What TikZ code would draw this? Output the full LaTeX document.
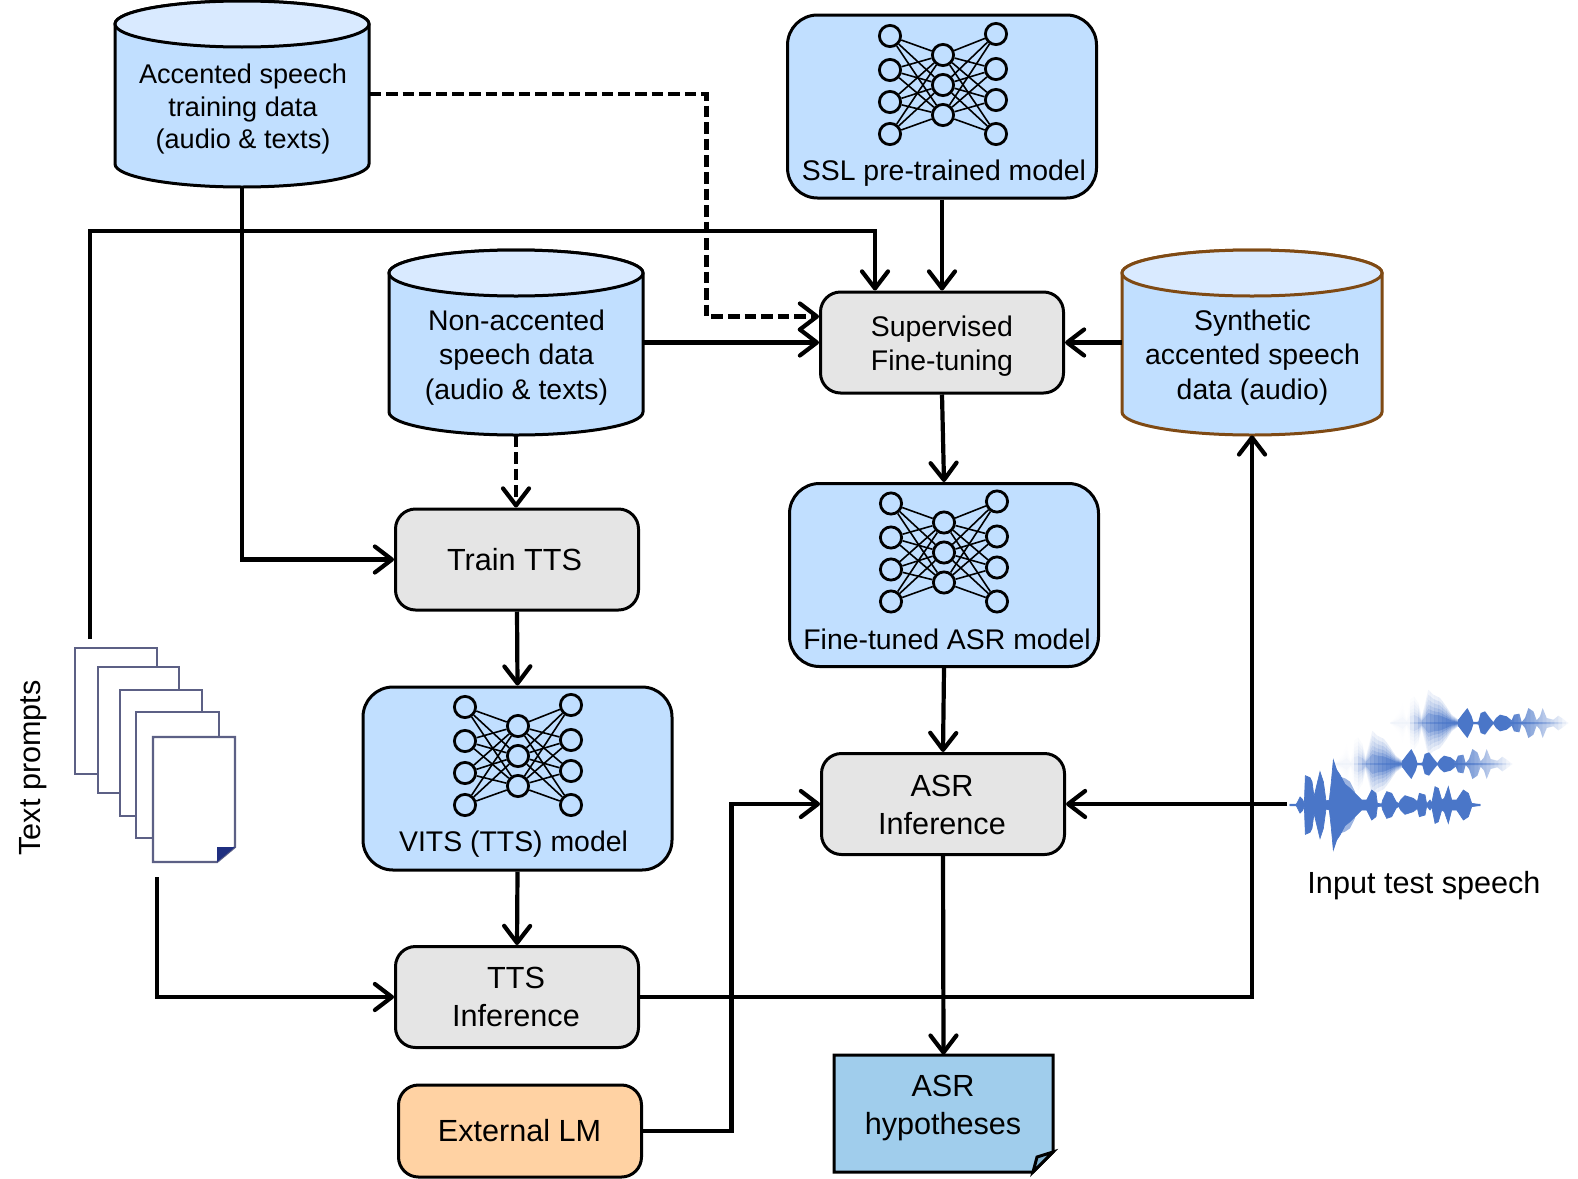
\documentclass[tikz,border=0pt]{standalone}
\usepackage{fontspec}
\setmainfont{Liberation Sans}
\usetikzlibrary{arrows.meta,calc}
\definecolor{bluefill}{HTML}{C1DFFF}
\definecolor{bluetop}{HTML}{D9EAFF}
\definecolor{greyfill}{HTML}{E5E5E5}
\definecolor{orangefill}{HTML}{FFD2A3}
\definecolor{hypfill}{HTML}{A0CDEC}
\definecolor{hypfold}{HTML}{7FB0D0}
\definecolor{brownline}{HTML}{7F4A14}
\definecolor{pageline}{HTML}{5C6085}
\definecolor{pagefold}{HTML}{1F2F80}
\definecolor{wavecol}{HTML}{4A76C8}
\tikzset{
  base/.style={draw=black,line width=1.5pt,inner sep=0pt},
  grey/.style={base,fill=greyfill,rounded corners=10pt,minimum width=121.5pt,minimum height=50.5pt},
  model/.style={base,fill=bluefill,rounded corners=15pt,minimum width=154.5pt,minimum height=91.5pt},
  lm/.style={base,fill=orangefill,rounded corners=10pt,minimum width=121.5pt,minimum height=46pt},
  txtS/.style={align=center,font=\fontsize{13.55pt}{16.1pt}\selectfont},
  txtM/.style={align=center,font=\fontsize{14.2pt}{17.1pt}\selectfont},
  txtL/.style={align=center,font=\fontsize{15.3pt}{19.1pt}\selectfont},
  conn/.style={line width=2.1pt,-{Straight Barb[length=8.5pt,width=13pt,line width=2.1pt,round]},line join=miter},
  dconn/.style={conn,dash pattern=on 5.8pt off 2.5pt},
  neuron/.style={circle,draw=black,line width=1.4pt,minimum size=10.6pt,inner sep=0pt},
  synapse/.style={line width=.8pt},
  pagesheet/.style={draw=pageline,line width=1.1pt,fill=white},
}
% cylinder: name, centre x, top, bottom, x radius (pt), border colour
\newcommand{\cyl}[6]{%
  \path[draw=#6,line width=1.5pt,fill=bluefill]
    (#2-#5*2,#3+23) -- (#2-#5*2,#4-23) arc[start angle=180,end angle=360,x radius=#5pt,y radius=11.5pt]
    -- (#2+#5*2,#3+23) arc[start angle=0,end angle=180,x radius=#5pt,y radius=11.5pt] -- cycle;
  \path[draw=#6,line width=1.5pt,fill=bluetop] (#2,#3+23) ellipse[x radius=#5pt,y radius=11.5pt];
  \node[inner sep=0pt,minimum width=#5*2pt,minimum height=#4*.5pt-#3*.5pt] (#1) at (#2,#3/2+#4/2) {};
}
% neural net icon
\newcommand{\nnet}[3]{%
  \foreach \i/\dy in {1/-49,2/-15,3/17,4/49}{\node[neuron] (#3l\i) at (#1-53,#2+\dy) {};}
  \foreach \i/\dy in {1/-30,2/0,3/30}{\node[neuron] (#3m\i) at (#1,#2+\dy) {};}
  \foreach \i/\dy in {1/-51,2/-16,3/15,4/49}{\node[neuron] (#3r\i) at (#1+53,#2+\dy) {};}
  \foreach \a in {1,2,3,4}{\foreach \b in {1,2,3}{
    \draw[synapse] (#3l\a) -- (#3m\b);
    \draw[synapse] (#3m\b) -- (#3r\a);
  }}
}
\newcommand{\backenv}{(0,-3)--(0,0)--(25,30)--(38,60)--(50,15)--(60,70)--(72,80)--(85,60)--(95,20)--(105,60)--(115,100)--(130,85)--(150,75)--(165,55)--(185,25)--(205,10)--(220,30)--(232,45)--(245,20)--(250,3)--(265,4)--(272,30)--(285,35)--(300,15)--(310,3)--(318,15)--(330,25)--(350,20)--(365,8)--(372,25)--(388,28)--(395,3)--(405,15)--(415,45)--(430,35)--(440,8)--(450,20)--(458,45)--(470,15)--(490,10)--(505,22)--(520,12)--(535,0)--(535,-3)}
\newcommand{\frontenv}{(0,-2)--(0,1)--(18,1)--(22,8)--(30,24)--(38,16)--(43,3)--(46,88)--(60,82)--(66,70)--(72,25)--(78,50)--(90,100)--(100,70)--(108,12)--(118,15)--(124,70)--(130,135)--(140,105)--(150,90)--(165,62)--(180,50)--(195,35)--(215,15)--(230,15)--(245,45)--(258,35)--(262,5)--(275,3)--(278,15)--(290,40)--(305,35)--(318,10)--(326,4)--(332,15)--(345,28)--(370,20)--(382,10)--(388,35)--(405,30)--(410,3)--(420,15)--(425,5)--(435,55)--(445,50)--(455,15)--(463,20)--(475,55)--(485,15)--(500,15)--(520,45)--(535,35)--(545,5)--(570,1)--(570,-2)}
\newcommand{\wfill}[2]{%
  \foreach \ws in {1,-1}{\fill[wavecol,opacity=#2,yscale=\ws*#1] \backenv -- cycle;}%
}
\newcommand{\backwave}[2]{%
  \begin{scope}[shift={(#1,#2)},x=.16667pt,y=.16667pt]
  \foreach \k in {0,...,44}{
    \pgfmathsetmacro\wt{(\k*12+6)/535}
    \pgfmathsetmacro\mf{min(1,max(.03,(\wt-.1)/.22))*min(1,max(.03,(1-\wt)/.34))}
    \begin{scope}
      \clip (\k*12,-150) rectangle (\k*12+12,150);
      \ifnum\k>16
        \wfill{1}{\mf}
      \else
        \foreach \wf/\wo in {1/.15,.85/.18,.7/.2,.55/.25,.42/.35,.3/.6}{
          \pgfmathsetmacro\wop{\wo*\mf}
          \wfill{\wf}{\wop}
        }
      \fi
    \end{scope}
  }
  \end{scope}
}
\begin{document}
\begin{tikzpicture}[x=.5pt,y=-.5pt]
\path[use as bounding box] (0,0) rectangle (1578,1178);
% data stores
\cyl{acc}{242}{1}{187}{63.5}{black}
\cyl{non}{516}{250}{435}{63.5}{black}
\cyl{syn}{1252}{250}{435}{65}{brownline}
\node[txtS] (acctxt) at (243,109) {Accented speech\\training data\\(audio \& texts)};
\node[txtM] (nontxt) at (516.5,357.5) {Non-accented\\speech data\\(audio \& texts)};
\node[txtM] (syntxt) at (1252.5,357.5) {Synthetic\\accented speech\\data (audio)};
% process boxes
\node[grey] (sup) at (942,342.5) {};
\node[txtM] (suptxt) at (942,346) {Supervised\\Fine-tuning};
\node[grey] (train) at (517,559.5) {};
\node[txtL] (traintxt) at (514.5,560) {Train TTS};
\node[grey] (asrinf) at (943,804) {};
\node[txtL] (asrinftxt) at (942,805) {ASR\\Inference};
\node[grey] (ttsinf) at (517,997) {};
\node[txtL] (ttsinftxt) at (516,997) {TTS\\Inference};
\node[lm] (ext) at (520,1131) {};
\node[txtL] (exttxt) at (519.5,1131) {External LM};
% model boxes
\node[model] (ssl) at (942,106.5) {};
\nnet{943}{85}{a}
\node[txtM] (ssltxt) at (944,173) {SSL pre-trained model};
\node[model] (fine) at (944,575) {};
\nnet{944}{552.5}{b}
\node[txtM] (finetxt) at (947,639) {Fine-tuned ASR model};
\node[model] (vits) at (517.5,778.5) {};
\nnet{518}{756}{c}
\node[txtM] (vitstxt) at (513.5,844) {VITS (TTS) model};
% hypotheses note
\draw[line width=1.5pt,fill=hypfill,line join=miter] (834,1055) -- (1053,1055) -- (1053,1152) -- (1033,1172) -- (834,1172) -- cycle;
\draw[line width=1.5pt,fill=hypfold,line join=miter] (1053,1152) -- (1037,1157) -- (1033,1172) -- cycle;
\node[inner sep=0pt,minimum width=109.5pt,minimum height=58.5pt] (hyp) at (943.5,1113.5) {};
\node[txtL] (hyptxt) at (943,1108) {ASR\\hypotheses};
% text prompt pages
\draw[pagesheet] (75,648) rectangle (157,774);
\draw[pagesheet] (98,667) rectangle (179,793);
\draw[pagesheet] (120,690) rectangle (202,816);
\draw[pagesheet] (136,712) rectangle (219,838);
\draw[pagesheet] (153,737) -- (235,737) -- (235,847) -- (217,862) -- (153,862) -- cycle;
\fill[pagefold] (217,847) -- (235,847) -- (217,862) -- cycle;
\node[txtL,rotate=90] (prompts) at (33,768) {Text prompts};
\coordinate (docup) at (90,639);
\coordinate (docdown) at (157,877);
% waveforms
\backwave{1390}{723}
\backwave{1334}{764}
\foreach \s in {1,-1}{
  \begin{scope}[shift={(1290,805)},x=.16667pt,y=.16667pt,yscale=\s]
    \fill[wavecol,draw=wavecol,line width=.35pt] \frontenv -- cycle;
    \fill[wavecol,opacity=.55] (150,85) -- (165,80) -- (180,70) -- (195,40) -- (195,25) -- (150,25) -- cycle;
  \end{scope}
}
\coordinate (wavein) at (1287,804);
\node[txtL] (inputtxt) at (1424,886) {Input test speech};
% connectors
\coordinate (dashbend) at (706.5,316.5);
\coordinate (lmbend) at (731.5,1131);
\coordinate (promptbend) at (90,231);
\draw[dconn] (acc.east) -| (dashbend) -- ([yshift=13pt]sup.west);
\draw[conn] (acc.south) |- (train.west);
\draw[conn] (docup) -- (promptbend) -| ([xshift=-33.5pt]sup.north);
\draw[conn] (ssl.south) -- (sup.north);
\draw[conn] (non.east) -- (sup.west);
\draw[conn] (syn.west) -- (sup.east);
\draw[conn] (sup.south) -- (fine.north);
\draw[dconn] (non.south) -- (non.south |- train.north);
\draw[conn] (train.south) -- (vits.north);
\draw[conn] (vits.south) -- (ttsinf.north);
\draw[conn] (docdown) |- (ttsinf.west);
\draw[conn] (ttsinf.east) -| (syn.south);
\draw[conn] (ext.east) -- (lmbend) |- (asrinf.west);
\draw[conn] (fine.south) -- (asrinf.north);
\draw[conn] (wavein) -- (asrinf.east);
\draw[conn] (asrinf.south) -- (hyp.north);
\end{tikzpicture}
\end{document}
